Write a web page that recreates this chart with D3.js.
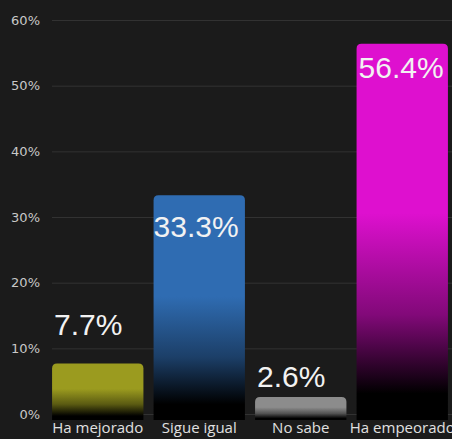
<!DOCTYPE html>
<html><head><meta charset="utf-8">
<script src="https://cdn.jsdelivr.net/npm/d3@7"></script>
<style>
html,body{margin:0;padding:0;background:#1b1b1b;}
svg{display:block;}
</style></head>
<body>
<svg id="c" width="452" height="439"></svg>
<script>
const categories = ["Ha mejorado", "Sigue igual", "No sabe", "Ha empeorado"];
const values = [7.7, 33.3, 2.6, 56.4];
const valueLabels = ["7.7%", "33.3%", "2.6%", "56.4%"];
const yTicks = [0, 10, 20, 30, 40, 50, 60];
const colors = ["#9b9b1f", "#2f6cb2", "#8c8c8c", "#de10cf"];

const W = 452, H = 439;
const svg = d3.select("#c");
svg.append("rect").attr("width", W).attr("height", H).attr("fill", "#1b1b1b");

const y = d3.scaleLinear().domain([0, 60]).range([414, 20]);
const x = d3.scaleBand().domain(categories).range([47, 453]).paddingInner(0.1).paddingOuter(0.05);

const defs = svg.append("defs");
colors.forEach((c, i) => {
  const g = defs.append("linearGradient").attr("id", "g" + i)
    .attr("x1", 0).attr("y1", 0).attr("x2", 0).attr("y2", 1);
  g.append("stop").attr("offset", "0").attr("stop-color", c);
  g.append("stop").attr("offset", "0.45").attr("stop-color", c);
  g.append("stop").attr("offset", "0.72").attr("stop-color", d3.color(c).darker(1.5));
  g.append("stop").attr("offset", "0.93").attr("stop-color", "#000");
  g.append("stop").attr("offset", "1").attr("stop-color", "#000");
});

// y axis labels
const yAxis = d3.axisLeft(y).tickValues(yTicks).tickFormat(d => d + "%").tickSize(0).tickPadding(0);
const ga = svg.append("g").attr("transform", "translate(40,0)").call(yAxis);
ga.select(".domain").remove();
ga.selectAll("text").attr("fill", "#c8c8c8").attr("font-family", "'DejaVu Sans', sans-serif").attr("font-size", "13px");

// gridlines
svg.append("g").selectAll("line").data(yTicks).join("line")
  .attr("x1", 52).attr("x2", W)
  .attr("y1", d => y(d) + 0.5).attr("y2", d => y(d) + 0.5)
  .attr("stroke", "#323232").attr("stroke-width", 1);

// bars with rounded top corners
const r = 5, extra = 6;
function barPath(x0, w, yt, yb) {
  return `M${x0},${yb} L${x0},${yt + r} Q${x0},${yt} ${x0 + r},${yt} L${x0 + w - r},${yt} Q${x0 + w},${yt} ${x0 + w},${yt + r} L${x0 + w},${yb} Z`;
}
svg.append("g").selectAll("path").data(values).join("path")
  .attr("d", (d, i) => barPath(x(categories[i]), x.bandwidth(), y(d), y(0) + extra))
  .attr("fill", (d, i) => `url(#g${i})`);

// value labels
const labelOffsets = [-28, 42, -10, 34];
svg.append("g").selectAll("text").data(values).join("text")
  .attr("x", (d, i) => x(categories[i]) + (i === 1 ? 0 : 2))
  .attr("y", (d, i) => y(d) + labelOffsets[i])
  .attr("fill", "#f2f2f2")
  .attr("font-family", "'Liberation Sans', Arial, sans-serif")
  .attr("font-size", "30px")
  .text((d, i) => valueLabels[i]);

// category labels
const xAxis = d3.axisBottom(x).tickSize(0).tickPadding(0);
const gx = svg.append("g").attr("transform", "translate(0,433)").call(xAxis);
gx.select(".domain").remove();
gx.selectAll("text").attr("fill", "#e0e0e0").attr("font-family", "'Open Sans', sans-serif").attr("font-size", "15px").attr("dy", "0");
</script>
</body></html>
